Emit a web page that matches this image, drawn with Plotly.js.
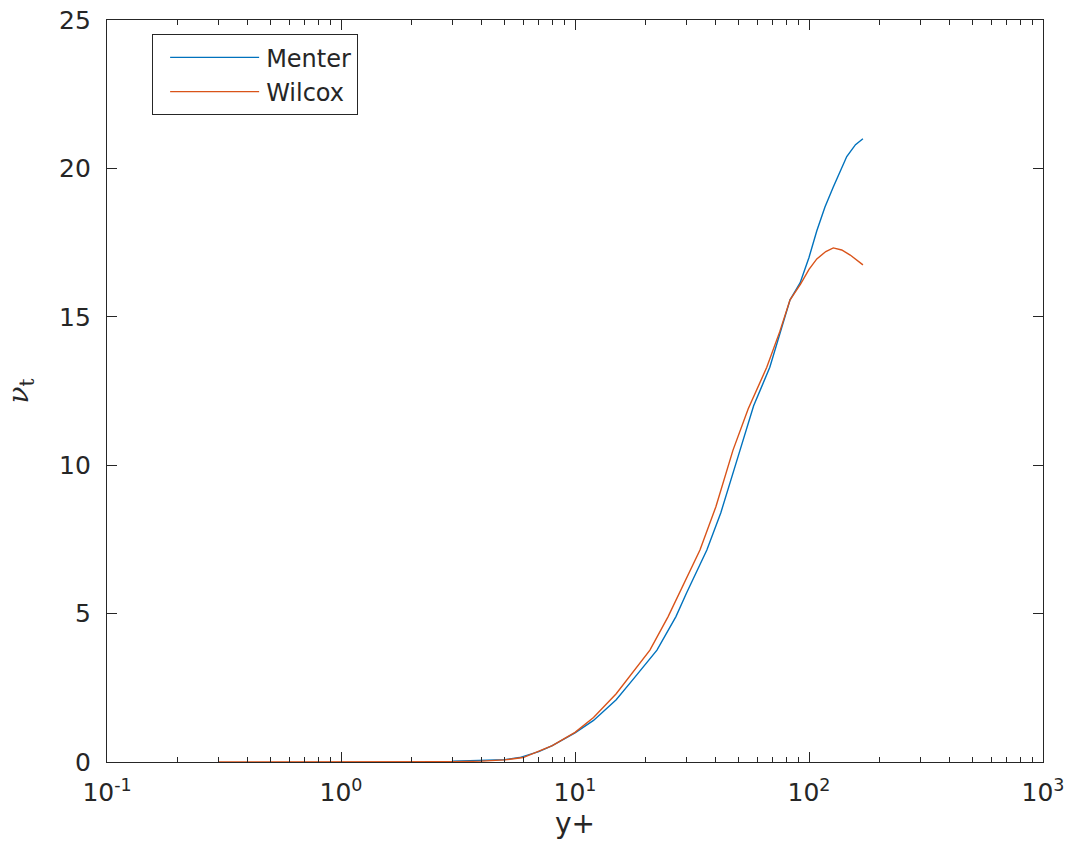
<!DOCTYPE html>
<html>
<head>
<meta charset="utf-8">
<script src="https://cdn.plot.ly/plotly-3.0.1.min.js"></script>
<style>html,body{margin:0;padding:0;background:#fff;}#chart{width:1070px;height:853px;}</style>
</head>
<body>
<div id="chart"></div>
<script>
// Data
const menterYPlus = [3, 4, 5, 5.8, 7, 8, 10, 12, 15, 18, 22.4, 27, 30, 36.6, 42, 50.7, 58, 68, 75, 83, 91.6, 100, 108, 117, 127, 136, 145, 158, 170];
const menterNut   = [0.03, 0.05, 0.08, 0.15, 0.35, 0.55, 0.98, 1.4, 2.1, 2.85, 3.77, 4.9, 5.7, 7.14, 8.4, 10.5, 12.0, 13.3, 14.4, 15.57, 16.14, 17.0, 17.9, 18.7, 19.37, 19.9, 20.4, 20.8, 21.0];
const wilcoxYPlus = [0.3, 0.5, 1, 2, 3, 4, 5, 6, 7, 8, 10, 12, 15, 18, 20.9, 25, 30, 34.2, 40, 47.3, 55, 66, 75, 83, 92, 100, 108, 118, 127, 138, 150, 160, 170];
const wilcoxNut   = [0, 0, 0, 0, 0.01, 0.03, 0.07, 0.15, 0.35, 0.55, 1.0, 1.5, 2.3, 3.1, 3.77, 4.9, 6.2, 7.14, 8.6, 10.5, 11.9, 13.3, 14.5, 15.57, 16.1, 16.6, 16.95, 17.2, 17.32, 17.25, 17.08, 16.9, 16.75];
const seriesNames = ["Menter", "Wilcox"];
const xTickVals = [0.1, 1, 10, 100, 1000];
const xTickText = ["10<sup>-1</sup>", "10<sup>0</sup>", "10<sup>1</sup>", "10<sup>2</sup>", "10<sup>3</sup>"];
const xMinorVals = [0.2,0.3,0.4,0.5,0.6,0.7,0.8,0.9,2,3,4,5,6,7,8,9,20,30,40,50,60,70,80,90,200,300,400,500,600,700,800,900];
const yTickVals = [0, 5, 10, 15, 20, 25];

const axisColor = '#262626';
const fam = 'DejaVu Sans, sans-serif';

const traces = [
  {x: menterYPlus, y: menterNut, name: seriesNames[0], type: 'scatter', mode: 'lines',
   line: {color: '#0072BD', width: 1.4}},
  {x: wilcoxYPlus, y: wilcoxNut, name: seriesNames[1], type: 'scatter', mode: 'lines',
   line: {color: '#D95319', width: 1.4}},
  // invisible helper traces to activate the tick overlay axes
  {x: xTickVals, y: [null, null, null, null, null], xaxis: 'x2', yaxis: 'y', showlegend: false,
   type: 'scatter', mode: 'lines', hoverinfo: 'skip'},
  {x: xTickVals, y: [null, null, null, null, null], xaxis: 'x3', yaxis: 'y', showlegend: false,
   type: 'scatter', mode: 'lines', hoverinfo: 'skip'}
];

const tickAxisBase = {
  type: 'log', range: [-1, 3], overlaying: 'x', anchor: 'y', side: 'bottom',
  tickmode: 'array', showticklabels: false,
  ticks: 'inside', tickwidth: 1, tickcolor: axisColor,
  showline: false, mirror: 'ticks', showgrid: false, zeroline: false
};

const layout = {
  width: 1070, height: 853,
  margin: {l: 107, r: 27, t: 20, b: 91, pad: 0},
  paper_bgcolor: '#fff', plot_bgcolor: '#fff',
  font: {family: fam, size: 20, color: axisColor},
  showlegend: true,
  legend: {x: 0.048, y: 0.981, xanchor: 'left', yanchor: 'top',
    bgcolor: '#fff', bordercolor: axisColor, borderwidth: 1.2,
    font: {family: fam, size: 24, color: axisColor},
    itemwidth: 103, tracegroupgap: 0},
  xaxis: {
    type: 'log', range: [-1, 3],
    tickmode: 'array', tickvals: xTickVals, ticktext: xTickText,
    // transparent outside ticks only push the labels down; visible ticks come from overlay axes
    ticks: 'outside', ticklen: 8, tickwidth: 1, tickcolor: 'rgba(0,0,0,0)',
    showline: true, linecolor: axisColor, linewidth: 1.2, mirror: true,
    showgrid: false, zeroline: false,
    tickfont: {family: fam, size: 25, color: axisColor},
    title: {text: 'y+', font: {family: fam, size: 28, color: axisColor}, standoff: 6},
    automargin: false
  },
  xaxis2: Object.assign({}, tickAxisBase, {tickvals: xMinorVals, ticklen: 5}),
  xaxis3: Object.assign({}, tickAxisBase, {tickvals: xTickVals, ticklen: 10}),
  yaxis: {
    range: [0, 25],
    tickmode: 'array', tickvals: yTickVals,
    ticks: 'inside', ticklen: 10, tickwidth: 1, tickcolor: axisColor,
    showline: true, linecolor: axisColor, linewidth: 1.2, mirror: 'ticks',
    showgrid: false, zeroline: false, ticklabelstandoff: 10,
    tickfont: {family: fam, size: 25, color: axisColor},
    title: {text: '<i>ν</i><sub>t</sub>', font: {family: 'DejaVu Serif, serif', size: 28, color: axisColor}, standoff: 22},
    automargin: false
  }
};

Plotly.newPlot('chart', traces, layout, {displayModeBar: false, staticPlot: true}).then(function (gd) {
  // lengthen the legend sample lines to match the reference style
  gd.querySelectorAll('.legend .legendlines path').forEach(function (p) {
    p.setAttribute('d', 'M17,0h89');
  });
});
</script>
</body>
</html>
